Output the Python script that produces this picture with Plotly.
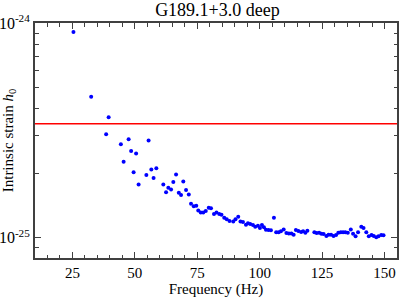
import plotly.graph_objects as go

freq = [25.4, 32.5, 39.5, 38.5, 44.4, 47.5, 55.5, 48.5, 50.5, 45.5, 49.5, 58.6, 56.6, 54.6,
        57.5, 51.5, 66.5, 61.4, 65.4, 69.4, 63.4, 64.5, 62.5, 70.5, 67.6, 68.5, 71.6, 72.5,
        73.6, 74.6, 75.4, 76.4, 77.4, 78.4, 79.6, 80.5, 81.7, 82.7, 83.8, 84.7, 85.8, 86.8,
        87.9, 89.4, 90.3, 91.4, 92.3, 93.3, 94.5, 95.3, 96.2, 97.3, 98.2, 99.3, 100.1, 100.9,
        101.7, 102.5, 103.5, 104.5, 105.7, 106.6, 107.6, 108.5, 109.6, 110.7, 111.7, 112.7,
        113.6, 114.5, 115.5, 116.6, 117.4, 118.3, 119.1, 121.9, 122.8, 123.8, 124.7, 125.6,
        126.7, 127.6, 128.6, 129.6, 130.6, 131.5, 132.5, 133.4, 134.3, 135.3, 136.5, 137.4,
        138.4, 139.4, 140.7, 141.6, 142.7, 143.7, 144.8, 145.7, 146.7, 147.6, 148.7, 149.6]
h0_e25 = [9.11, 4.55, 3.65, 3.04, 2.73, 2.88, 2.84, 2.54, 2.47, 2.26, 2.02, 2.11, 2.08, 1.96,
          1.90, 1.77, 1.97, 1.77, 1.82, 1.83, 1.71, 1.68, 1.63, 1.67, 1.62, 1.58, 1.59, 1.44,
          1.40, 1.41, 1.34, 1.31, 1.31, 1.33, 1.38, 1.37, 1.29, 1.31, 1.29, 1.28, 1.24, 1.22,
          1.195, 1.188, 1.22, 1.253, 1.191, 1.183, 1.15, 1.166, 1.157, 1.145, 1.125, 1.137,
          1.109, 1.145, 1.117, 1.09, 1.085, 1.082, 1.24, 1.059, 1.059, 1.07, 1.093, 1.051,
          1.047, 1.047, 1.033, 1.085, 1.073, 1.062, 1.07, 1.055, 1.078, 1.059, 1.051, 1.055,
          1.044, 1.039, 1.017, 1.033, 1.033, 1.017, 1.028, 1.055, 1.059, 1.059, 1.059, 1.055,
          1.093, 1.044, 1.014, 1.059, 1.125, 1.109, 1.059, 1.014, 1.028, 1.017, 1.003, 1.014,
          1.028, 1.025]
h0 = [v * 1e-25 for v in h0_e25]
threshold = 3.40e-25
x_range = [10, 155]
x_ticks = [25, 50, 75, 100, 125, 150]
y_ticks = [1e-25, 1e-24]
y_ticktext = ["10<sup>-25</sup>", "10<sup>-24</sup>"]
y_minor = [8e-26, 9e-26] + [k * 1e-25 for k in range(2, 10)]

font = "Liberation Serif, Times New Roman, serif"
axcol = "#404040"

fig = go.Figure()
fig.add_trace(go.Scatter(x=x_range, y=[threshold, threshold], mode="lines",
                         line=dict(color="#ff0000", width=1.5), showlegend=False))
fig.add_trace(go.Scatter(x=freq, y=h0, mode="markers",
                         marker=dict(color="#0000ff", size=4), showlegend=False))

fig.update_layout(
    width=399, height=298,
    margin=dict(l=35, r=2, t=23, b=40, autoexpand=False),
    paper_bgcolor="white", plot_bgcolor="white",
    font=dict(family=font, size=15, color="black"),
    title=dict(text="G189.1+3.0 deep", x=0.545, xanchor="center",
               yref="container", y=1 - 3 / 298, yanchor="top",
               font=dict(size=18, family=font)),
)
fig.update_xaxes(
    range=x_range, tickvals=x_ticks, ticks="inside", ticklen=6, tickwidth=1.2,
    tickcolor=axcol, showline=True, linecolor=axcol, linewidth=2, mirror="ticks",
    showgrid=False, zeroline=False, automargin=False,
    minor=dict(dtick=5, tick0=0, ticks="inside", ticklen=3.5, tickwidth=1, tickcolor=axcol),
    title=dict(text="Frequency (Hz)", standoff=3, font=dict(size=15)),
    tickfont=dict(size=15),
)
fig.update_yaxes(
    type="log", range=[-25.095, -23.998], tickvals=y_ticks, ticktext=y_ticktext,
    ticks="inside", ticklen=6, tickwidth=1.2, tickcolor=axcol,
    showline=True, linecolor=axcol, linewidth=2, mirror="ticks",
    showgrid=False, zeroline=False, automargin=False,
    minor=dict(tickvals=y_minor, ticks="inside", ticklen=3.5, tickwidth=1, tickcolor=axcol),
    title=dict(text="Intrinsic strain <i>h</i><sub>0</sub>", standoff=0, font=dict(size=15)),
    tickfont=dict(size=16),
)
fig.write_html("out.html", config={"displayModeBar": False},
               post_script="document.body.style.margin='0';document.body.style.overflow='hidden';")
